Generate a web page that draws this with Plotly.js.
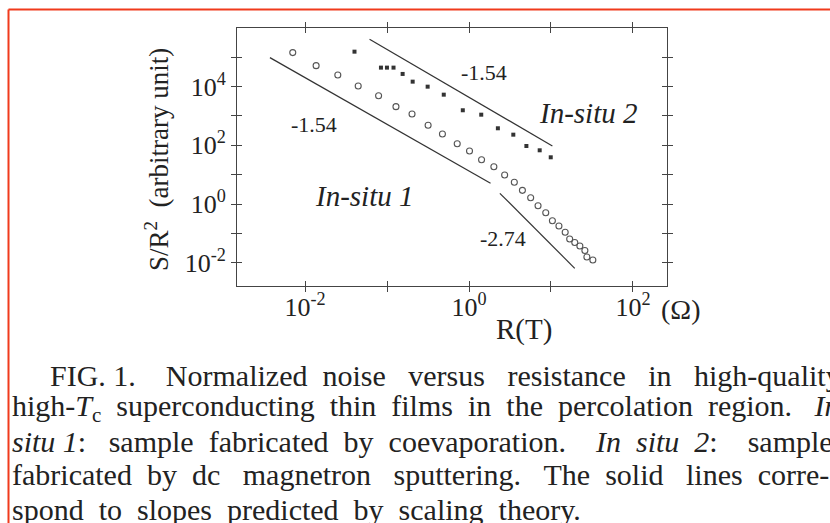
<!DOCTYPE html>
<html>
<head>
<meta charset="utf-8">
<script src="https://cdn.plot.ly/plotly-3.0.1.min.js"></script>
<style>html,body{margin:0;padding:0;background:#fff;}</style>
</head>
<body>
<div id="chart" style="width:830px;height:523px;"></div>
<script>
// ---- data ----
const insitu1_R = [0.00708, 0.01365, 0.0251, 0.0445, 0.0789, 0.1285, 0.2018, 0.317, 0.474, 0.718, 1.014, 1.422, 2.01, 2.72, 3.57, 4.48, 5.65, 6.95, 8.63, 10.4, 12.5, 14.9, 16.9, 19.5, 22.5, 25.9, 27.4, 32.4];
const insitu1_S = [1.42e5, 5.12e4, 2.47e4, 1.04e4, 4860, 2056, 1159, 479, 242, 113, 63.8, 32.2, 18.6, 9.70, 5.48, 2.92, 1.64, 0.875, 0.506, 0.270, 0.178, 0.109, 0.0643, 0.0489, 0.0372, 0.0261, 0.0157, 0.0124];
const insitu2_R = [0.0401, 0.0843, 0.0998, 0.120, 0.155, 0.2055, 0.313, 0.492, 0.840, 1.41, 2.25, 3.47, 5.01, 7.28, 9.93];
const insitu2_S = [1.53e5, 4.38e4, 4.38e4, 4.38e4, 2.67e4, 1.46e4, 9860, 5260, 1550, 1097, 378, 229, 94.4, 67.3, 38.9];
const fit1_R = [0.00373, 1.83];   const fit1_S = [9.58e4, 5.07];     // slope -1.54 (In-situ 1)
const fit2_R = [2.38, 19.5];      const fit2_S = [2.31, 0.00647];    // slope -2.74
const fit3_R = [0.0612, 10.4];    const fit3_S = [4.05e5, 94.4];     // slope -1.54 (In-situ 2)
const xTickVals = [0.01, 0.1, 1, 10, 100];
const xTickText = ['10<sup>-2</sup>', '', '10<sup>0</sup>', '', '10<sup>2</sup>'];
const yTickVals = [0.01, 0.1, 1, 10, 100, 1000, 1e4, 1e5];
const yTickText = ['10<sup>-2</sup>', '', '10<sup>0</sup>', '', '10<sup>2</sup>', '', '10<sup>4</sup>', ''];
const captionLines = [
  'FIG. 1.    Normalized  noise   versus   resistance   in   high-quality',
  'high-<i>T</i><sub>c</sub>  superconducting  thin  films  in  the  percolation  region.   <i>In</i>',
  '<i>situ 1</i>:   sample  fabricated  by  coevaporation.    <i>In  situ  2</i>:    sample',
  'fabricated  by  dc   magnetron   sputtering.   The  solid   lines  corre-',
  'spond  to  slopes  predicted  by  scaling  theory.'
];

// ---- layout geometry ----
const W = 830, H = 523;
const L = 237, R = 667, T = 28, B = 286;
const px = v => (v - L) / (R - L);
const py = v => (B - v) / (B - T);
const FONT = 'Liberation Serif, Times New Roman, serif';
const INK = '#222';
const nb = s => s.replace(/ /g, '\u00a0');

const xr = [-2.83, 2.415];
const yr = [-2.79, 5.99];

const traces = [
  {x: insitu1_R, y: insitu1_S, mode: 'markers', type: 'scatter',
   marker: {symbol: 'circle-open', size: 6, color: '#555', line: {width: 1.1, color: '#555'}}},
  {x: insitu2_R, y: insitu2_S, mode: 'markers', type: 'scatter',
   marker: {symbol: 'square', size: 4, color: '#333'}},
  {x: fit1_R, y: fit1_S, mode: 'lines', type: 'scatter', line: {color: '#333', width: 1.2}},
  {x: fit2_R, y: fit2_S, mode: 'lines', type: 'scatter', line: {color: '#333', width: 1.2}},
  {x: fit3_R, y: fit3_S, mode: 'lines', type: 'scatter', line: {color: '#333', width: 1.2}},
  {x: [], y: [], xaxis: 'x2', yaxis: 'y2', mode: 'markers', type: 'scatter'}
];

const axBase = {type: 'log', showgrid: false, zeroline: false, showline: true,
  linecolor: '#444', linewidth: 1, ticklen: 5, tickwidth: 1,
  tickcolor: '#444', mirror: 'allticks', tickfont: {family: FONT, size: 26, color: INK}};

const ann = (x, y, text, size, extra) => Object.assign({x: x, y: y, xref: 'paper', yref: 'paper', text: text,
  showarrow: false, xanchor: 'center', yanchor: 'middle', font: {family: FONT, size: size, color: INK}}, extra || {});

const annotations = [
  ann(px(484), py(72.7), '-1.54', 22),
  ann(px(314), py(124), '-1.54', 22),
  ann(px(503), py(238.3), '-2.74', 22),
  ann(px(588), py(112.7), '<i>In-situ 2</i>', 29),
  ann(px(364), py(195.7), '<i>In-situ 1</i>', 29),
  ann(px(524), py(329), 'R(T)', 29),
  ann(px(680), py(309), '(Ω)', 28),
  ann(px(157), py(160), 'S/R<sup>2</sup>\u00a0\u00a0(arbitrary unit)', 27, {textangle: -90})
];
const capX = [48, 10, 10, 10, 10];
const capY = [375, 408, 441, 474, 509];
captionLines.forEach((t, i) => {
  annotations.push(ann(px(capX[i]), py(capY[i]), nb(t), 30, {xanchor: 'left'}));
});

const layout = {
  width: W, height: H, showlegend: false,
  paper_bgcolor: '#fff', plot_bgcolor: '#fff',
  margin: {l: L, r: W - R, t: T, b: H - B, pad: 0},
  xaxis: Object.assign({}, axBase, {range: xr, tickvals: xTickVals, ticktext: xTickText, ticks: 'inside', ticklabelstandoff: -2}),
  yaxis: Object.assign({}, axBase, {range: yr, tickvals: yTickVals, ticktext: yTickText, ticks: 'outside'}),
  xaxis2: {type: 'log', range: xr, overlaying: 'x', anchor: 'y2', showgrid: false, zeroline: false, showline: false,
    ticks: 'outside', ticklen: 5, tickcolor: '#444', mirror: 'allticks', tickvals: xTickVals, showticklabels: false},
  yaxis2: {type: 'log', range: yr, overlaying: 'y', anchor: 'x2', side: 'left', showgrid: false, zeroline: false, showline: false,
    ticks: 'inside', ticklen: 5, tickcolor: '#444', mirror: 'allticks', tickvals: yTickVals, showticklabels: false},
  annotations: annotations,
  shapes: [
    {type: 'line', xref: 'paper', yref: 'paper', x0: px(8.5), x1: px(832), y0: py(9.5), y1: py(9.5), line: {color: '#f03a1c', width: 2}},
    {type: 'line', xref: 'paper', yref: 'paper', x0: px(8.5), x1: px(8.5), y0: py(9.5), y1: py(525), line: {color: '#f03a1c', width: 2}}
  ]
};

Plotly.newPlot('chart', traces, layout, {staticPlot: true, displayModeBar: false});
</script>
</body>
</html>
